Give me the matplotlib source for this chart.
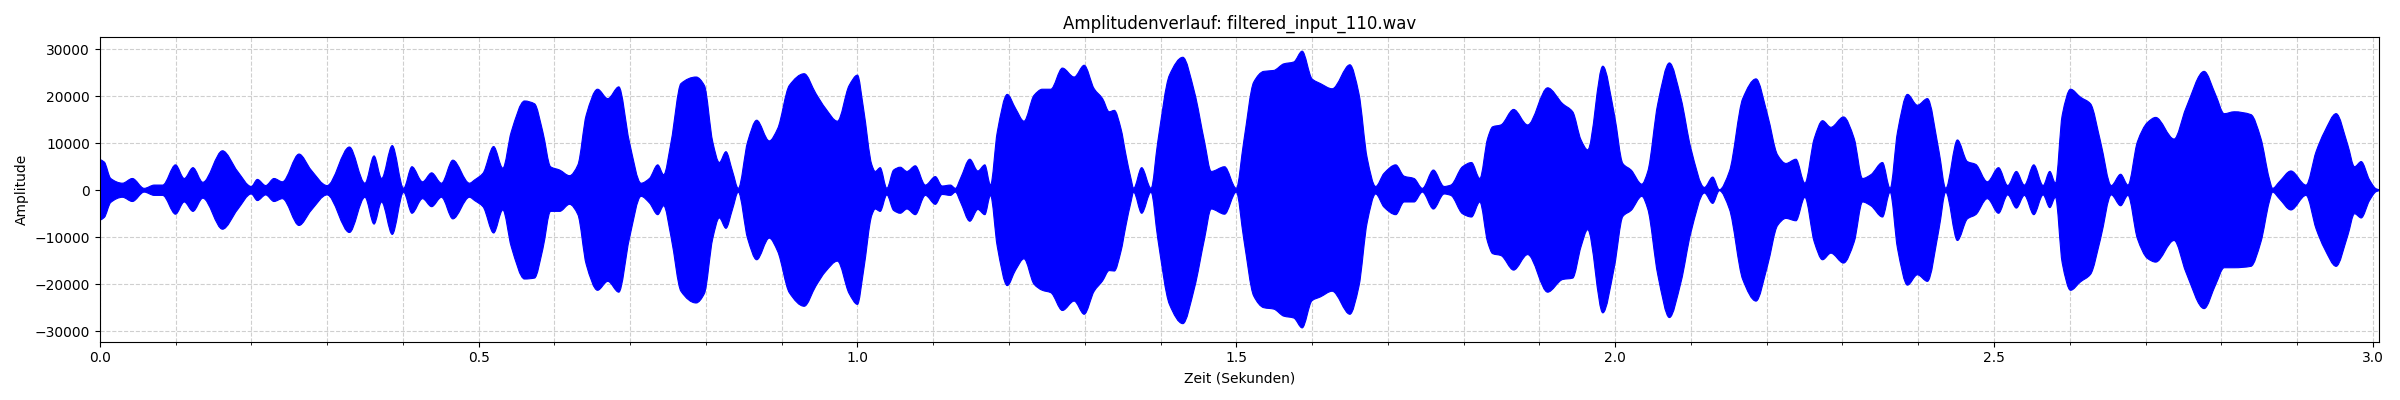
import numpy as np
import matplotlib.pyplot as plt
from matplotlib.path import Path
from matplotlib.patches import PathPatch
from matplotlib.ticker import MultipleLocator

# envelope of the waveform
zeit = [
    0.000, 0.006, 0.0145, 0.030, 0.043, 0.0586, 0.072, 0.083, 0.100, 0.1115,
    0.123, 0.136, 0.162, 0.182, 0.200, 0.208, 0.219, 0.230, 0.241, 0.263,
    0.279, 0.300, 0.3295, 0.350, 0.362, 0.372, 0.386, 0.401, 0.412, 0.426,
    0.438, 0.451, 0.466, 0.488, 0.4947, 0.5057, 0.5198, 0.532, 0.543, 0.5606,
    0.5738, 0.5848, 0.595, 0.607, 0.620, 0.631, 0.642, 0.657, 0.6705, 0.685,
    0.699, 0.7144, 0.7254, 0.7364, 0.7443, 0.754, 0.767, 0.787, 0.798, 0.809,
    0.8177, 0.8264, 0.8352, 0.8427, 0.855, 0.867, 0.8836, 0.8946, 0.910, 0.9297,
    0.9451, 0.958, 0.9736, 0.989, 1.000, 1.008, 1.019, 1.0234, 1.030, 1.0388,
    1.0477, 1.0565, 1.0653, 1.0763, 1.0896, 1.1028, 1.1117, 1.1227, 1.1293, 1.1359,
    1.1483, 1.1589, 1.1681, 1.1756, 1.1845, 1.1977, 1.2087, 1.2198, 1.233, 1.244,
    1.2551, 1.2705, 1.286, 1.2992, 1.3124, 1.3235, 1.3323, 1.339, 1.3478, 1.3544,
    1.361, 1.3645, 1.3751, 1.3875, 1.3963, 1.4117, 1.4294, 1.4448, 1.4581, 1.4669,
    1.4845, 1.500, 1.5097, 1.5229, 1.5362, 1.5494, 1.5626, 1.5758, 1.5869, 1.600,
    1.6111, 1.6265, 1.6499, 1.6618, 1.6728, 1.6839, 1.6949, 1.7104, 1.7214, 1.7346,
    1.7456, 1.7601, 1.7743, 1.7831, 1.7985, 1.8104, 1.8214, 1.8316, 1.8383, 1.8492,
    1.866, 1.8845, 1.9109, 1.9308, 1.944, 1.955, 1.9638, 1.9837, 1.9991, 2.0101,
    2.0211, 2.0352, 2.043, 2.0562, 2.0716, 2.087, 2.100, 2.1178, 2.1287, 2.1375,
    2.1507, 2.1683, 2.1859, 2.2012, 2.2144, 2.2254, 2.2386, 2.2504, 2.2627, 2.2737,
    2.2847, 2.3014, 2.3155, 2.3265, 2.3374, 2.3528, 2.3629, 2.3726, 2.3858, 2.3989,
    2.4121, 2.4275, 2.4363, 2.4517, 2.4649, 2.4759, 2.4912, 2.506, 2.5181, 2.5295,
    2.5401, 2.5525, 2.5648, 2.5736, 2.5811, 2.590, 2.601, 2.6142, 2.6274, 2.6407,
    2.6548, 2.6671, 2.6768, 2.6892, 2.7024, 2.7134, 2.7377, 2.7531, 2.7773, 2.7928,
    2.8038, 2.817, 2.8391, 2.8523, 2.8633, 2.8677, 2.8765, 2.8919, 2.9118, 2.925,
    2.936, 2.9515, 2.967, 2.9758, 2.9846, 2.9956, 3.0044, 3.0085,
]

oben = [
    6570, 6000, 2500, 1500, 2500, 400, 1100, 1100, 5400, 2500,
    4800, 1700, 8400, 4000, 800, 2300, 1000, 2500, 1800, 7700,
    4300, 1000, 9200, 1500, 7300, 2500, 9500, 400, 5000, 1800,
    3700, 1500, 6400, 1500, 2200, 3600, 9300, 4700, 12400, 19000,
    18400, 12400, 5000, 4300, 3100, 5400, 16000, 21500, 19500, 22000,
    10300, 1500, 2500, 5400, 3300, 10300, 22700, 24100, 22300, 10300,
    5900, 8200, 4000, 400, 10300, 14900, 10500, 13100, 22300, 24800,
    20600, 17400, 14700, 22300, 24500, 17400, 5400, 4000, 4800, 400,
    4300, 4900, 4000, 5200, 1100, 2900, 900, 1100, 400, 2500,
    6600, 4100, 5400, 1100, 12400, 20400, 17400, 14700, 20200, 21500,
    21500, 26000, 24100, 26600, 21600, 19500, 16700, 17000, 13100, 7500,
    2500, 400, 4800, 400, 10300, 24500, 28300, 20900, 10300, 4000,
    5000, 400, 10300, 23000, 25300, 25500, 26900, 27300, 29600, 23700,
    22700, 21600, 26700, 20600, 6800, 800, 3600, 5400, 3000, 2500,
    400, 4300, 800, 1100, 5000, 5900, 2500, 11000, 13500, 13900,
    17200, 13900, 21800, 18400, 16700, 10700, 8600, 26400, 16000, 5700,
    4300, 1300, 4000, 18400, 27100, 19500, 8900, 600, 2800, 100,
    4000, 19500, 23700, 16000, 7500, 5700, 6600, 1500, 11000, 14800,
    13400, 15600, 11000, 2500, 3300, 5900, 400, 12400, 20400, 18100,
    19500, 8200, 400, 10700, 6100, 5500, 1800, 4800, 1000, 4000,
    1100, 5400, 1000, 4000, 1500, 16000, 21500, 19800, 18400, 10300,
    1000, 3400, 1100, 10300, 14400, 15500, 10900, 17400, 25300, 20200,
    16300, 16700, 16100, 11000, 2500, 400, 1800, 4100, 1100, 8200,
    12400, 16300, 9600, 5000, 6100, 2200, 300, 100,
]

unten = [
    -6430, -5800, -2600, -1500, -2400, -400, -1100, -1100, -5100, -2500,
    -4500, -1700, -8300, -4100, -800, -2200, -1000, -2400, -1800, -7500,
    -4300, -1000, -9000, -1500, -7200, -2500, -9400, -400, -4900, -1800,
    -3500, -1500, -6100, -1500, -2200, -3500, -9100, -4200, -12000, -18900,
    -18700, -12500, -4500, -4500, -3000, -5200, -15800, -21300, -19400, -21700,
    -10300, -1300, -2700, -5200, -3300, -10000, -21500, -24000, -22000, -10300,
    -5900, -8100, -4000, -400, -10300, -14800, -10200, -13000, -21800, -24700,
    -20400, -17300, -15100, -22000, -24300, -17200, -5300, -4000, -4500, -1000,
    -4300, -4900, -4000, -5200, -1100, -3000, -900, -1100, -400, -2500,
    -6600, -4100, -5200, -1100, -12000, -20300, -17000, -14600, -20000, -21300,
    -21800, -25600, -23600, -26400, -21500, -19300, -17100, -17200, -13000, -7500,
    -2500, -400, -4900, -400, -10300, -24300, -28400, -20800, -10300, -4000,
    -5100, -400, -10300, -22500, -25000, -25300, -26800, -27200, -29300, -23500,
    -22700, -21500, -26400, -20500, -6800, -800, -3600, -5200, -2500, -2500,
    -400, -4000, -800, -1100, -5000, -5700, -2500, -11000, -13500, -13900,
    -17000, -13700, -21700, -19000, -18700, -12000, -8400, -26100, -16200, -5600,
    -4300, -1300, -4000, -18000, -27100, -19500, -9000, -600, -2800, -100,
    -4000, -19000, -23600, -16000, -7500, -6000, -6500, -1500, -11000, -14800,
    -13400, -15500, -11000, -2500, -3300, -5700, -400, -12400, -20200, -18000,
    -19400, -8200, -400, -10700, -6100, -5200, -1800, -4900, -1000, -3800,
    -1100, -5200, -1000, -3700, -1500, -15500, -21300, -19500, -17900, -10300,
    -1000, -3300, -1100, -10300, -14500, -15300, -10700, -17400, -25200, -20000,
    -16500, -16500, -16200, -11000, -2500, -400, -1800, -4200, -1100, -8200,
    -12400, -16200, -9600, -5000, -5900, -2200, -300, -100,
]

zeit = np.array(zeit, dtype=float)
oben = np.array(oben, dtype=float)
unten = np.array(unten, dtype=float)


def bezier_kurve(x, y):
    # smooth the drawn outline with monotone cubic bezier segments
    h = np.diff(x)
    d = np.diff(y) / h
    m = np.zeros(len(x))
    m[0] = d[0]
    m[-1] = d[-1]
    for k in range(1, len(x) - 1):
        if d[k - 1] * d[k] > 0:
            w1 = 2 * h[k] + h[k - 1]
            w2 = h[k] + 2 * h[k - 1]
            m[k] = (w1 + w2) / (w1 / d[k - 1] + w2 / d[k])
    verts = [(x[0], y[0])]
    for i in range(len(x) - 1):
        verts.append((x[i] + h[i] / 3, y[i] + m[i] * h[i] / 3))
        verts.append((x[i + 1] - h[i] / 3, y[i + 1] - m[i + 1] * h[i] / 3))
        verts.append((x[i + 1], y[i + 1]))
    return verts


v_oben = bezier_kurve(zeit, oben)
v_unten = bezier_kurve(zeit, unten)[::-1]
verts = v_oben + v_unten + [v_oben[0]]
codes = ([Path.MOVETO] + [Path.CURVE4] * (len(v_oben) - 1)
         + [Path.LINETO] + [Path.CURVE4] * (len(v_unten) - 1)
         + [Path.CLOSEPOLY])

fig, ax = plt.subplots(figsize=(24, 4), dpi=100)
ax.add_patch(PathPatch(Path(verts, codes), facecolor='blue', edgecolor='blue',
                       linewidth=0.8, zorder=2))
ax.autoscale_view()

ax.set_xlim(zeit[0], zeit[-1])
ax.xaxis.set_major_locator(MultipleLocator(0.5))
ax.xaxis.set_minor_locator(MultipleLocator(0.1))
ax.grid(True, which='both', linestyle='--', alpha=0.6)

ax.set_title('Amplitudenverlauf: filtered_input_110.wav')
ax.set_xlabel('Zeit (Sekunden)')
ax.set_ylabel('Amplitude')

plt.tight_layout()
plt.savefig('out.png')
